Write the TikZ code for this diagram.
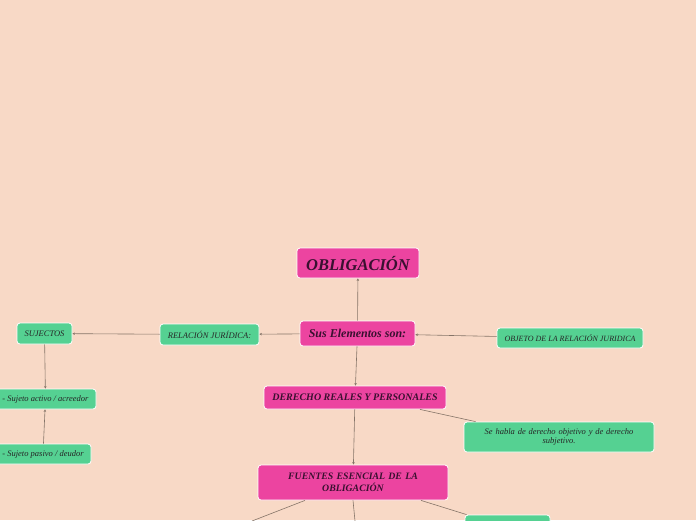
\documentclass[tikz,border=0pt]{standalone}
\usepackage{fontspec}
\setmainfont{Liberation Serif}
\usetikzlibrary{arrows.meta}

\definecolor{paper}{HTML}{F8D9C6}
\definecolor{hotpink}{HTML}{EC44A0}
\definecolor{mint}{HTML}{55D192}
\definecolor{wire}{HTML}{857468}
\definecolor{ink}{HTML}{3A1030}

\begin{document}
\begin{tikzpicture}[
    x=1pt, y=-1pt,
    % Styles
    mainbox/.style={
        rectangle, rounded corners=3pt, draw=white, fill=hotpink,
        line width=0.8pt, align=center, text=ink,
        font=\bfseries\itshape
    },
    leafbox/.style={
        rectangle, rounded corners=3pt, draw=white, fill=mint,
        line width=0.8pt, align=center, text=black!85,
        font=\fontsize{8.5}{9.5}\selectfont\itshape
    },
    link/.style={
        -{Stealth[length=2.5pt, width=2.5pt]}, line width=0.6pt, draw=wire
    },
    plain/.style={
        line width=0.6pt, draw=wire
    }
]

% Canvas
\useasboundingbox (0,0) rectangle (696,520);
\fill[paper] (0,0) rectangle (696,520);
\clip (0,0) rectangle (696,520);

% ── Centre column ──────────────────────────────────────────────────────────
\node[mainbox, minimum width=122, minimum height=30, font=\fontsize{16.5}{18}\selectfont\bfseries\itshape] (oblig) at (358,263) {OBLIGACIÓN};
\node[mainbox, minimum width=115, minimum height=25, font=\fontsize{12}{14}\selectfont\bfseries\itshape] (elementos) at (357.5,333.5) {Sus Elementos son:};
\node[mainbox, minimum width=182, minimum height=23, font=\fontsize{10}{12}\selectfont\bfseries\itshape] (derecho) at (355,397.5) {DERECHO REALES Y PERSONALES};
\node[mainbox, minimum width=190, minimum height=35, text width=180, font=\fontsize{9.8}{11.5}\selectfont\bfseries\itshape] (fuentes) at (353,482.5) {FUENTES ESENCIAL DE LA\\OBLIGACIÓN};

% ── Left branch ────────────────────────────────────────────────────────────
\node[leafbox, minimum width=99, minimum height=21] (relacion) at (209.5,334.5) {RELACIÓN JURÍDICA:};
\node[leafbox, minimum width=55, minimum height=21] (sujectos) at (44.5,333.5) {SUJECTOS};
\node[leafbox, minimum width=101, minimum height=20] (activo) at (45.5,399) {- Sujeto activo / acreedor};
\node[leafbox, minimum width=96, minimum height=20] (pasivo) at (43,454) {- Sujeto pasivo / deudor};

% ── Right branch ───────────────────────────────────────────────────────────
\node[leafbox, minimum width=146, minimum height=20, font=\fontsize{8}{9}\selectfont\itshape] (objeto) at (570,338) {OBJETO DE LA RELACIÓN JURIDICA};
\node[leafbox, minimum width=190, minimum height=30, text width=176] (sehabla) at (559,437) {Se habla de derecho objetivo y de derecho\\subjetivo.};
\node[leafbox, minimum width=85, minimum height=24] (hidden) at (507.5,527) {};

% ── Loose ends below the frame ────────────────────────────────────────────
\coordinate (offleft) at (252,521);
\coordinate (offdown) at (355,521);

% ── Arrows ─────────────────────────────────────────────────────────────────
\draw[link] (elementos) -- (oblig);
\draw[link] (elementos) -- (relacion);
\draw[link] (relacion) -- (sujectos);
\draw[link] (sujectos) -- (activo);
\draw[link] (pasivo) -- (activo);
\draw[link] (objeto) -- (elementos);
\draw[link] (elementos) -- (derecho);
\draw[link] (derecho) -- (fuentes);
\draw[plain] ([xshift=65]derecho.south) -- ([xshift=12]sehabla.north west);
\draw[plain] ([xshift=-48]fuentes.south) -- (offleft);
\draw[plain] (fuentes.south) -- (offdown);
\draw[plain] ([xshift=68]fuentes.south) -- ([xshift=2]hidden.north west);

\end{tikzpicture}
\end{document}
